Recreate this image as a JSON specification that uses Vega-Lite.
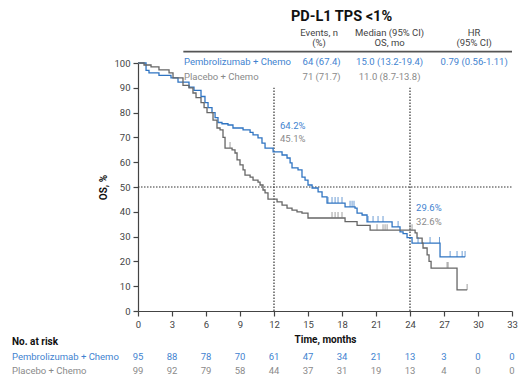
{
  "$schema": "https://vega.github.io/schema/vega-lite/v6.json",
  "width": 374,
  "height": 248,
  "autosize": {"type": "none"},
  "padding": {"left": 138, "top": 63, "right": 7, "bottom": 64},
  "background": "white",
  "config": {
    "font": "Roboto",
    "view": {"stroke": null},
    "axis": {"grid": false, "labelOverlap": false, "labelFlush": false, "domainColor": "#444", "tickColor": "#444", "labelColor": "#444", "labelFont": "Roboto", "labelFontSize": 9.5, "titleFont": "Roboto", "titleFontSize": 10, "titleColor": "#111", "titleFontWeight": "bold", "domainWidth": 1.2, "tickWidth": 1.2}
  },
  "resolve": {"scale": {"color": "independent"}},
  "datasets": {
    "curves": [
      {"arm": "Pembrolizumab + Chemo", "t": 0, "s": 100},
      {"arm": "Pembrolizumab + Chemo", "t": 0.71, "s": 97},
      {"arm": "Pembrolizumab + Chemo", "t": 0.97, "s": 96},
      {"arm": "Pembrolizumab + Chemo", "t": 1.85, "s": 95},
      {"arm": "Pembrolizumab + Chemo", "t": 2.91, "s": 94},
      {"arm": "Pembrolizumab + Chemo", "t": 3.53, "s": 92.3},
      {"arm": "Pembrolizumab + Chemo", "t": 4.5, "s": 90.3},
      {"arm": "Pembrolizumab + Chemo", "t": 4.94, "s": 89},
      {"arm": "Pembrolizumab + Chemo", "t": 5.56, "s": 86.5},
      {"arm": "Pembrolizumab + Chemo", "t": 5.91, "s": 84},
      {"arm": "Pembrolizumab + Chemo", "t": 6.18, "s": 82},
      {"arm": "Pembrolizumab + Chemo", "t": 6.53, "s": 80},
      {"arm": "Pembrolizumab + Chemo", "t": 6.8, "s": 78},
      {"arm": "Pembrolizumab + Chemo", "t": 7.06, "s": 76},
      {"arm": "Pembrolizumab + Chemo", "t": 7.41, "s": 75.5},
      {"arm": "Pembrolizumab + Chemo", "t": 7.94, "s": 75},
      {"arm": "Pembrolizumab + Chemo", "t": 8.38, "s": 73.8},
      {"arm": "Pembrolizumab + Chemo", "t": 9.27, "s": 73},
      {"arm": "Pembrolizumab + Chemo", "t": 9.89, "s": 72},
      {"arm": "Pembrolizumab + Chemo", "t": 10.15, "s": 71},
      {"arm": "Pembrolizumab + Chemo", "t": 10.59, "s": 69.8},
      {"arm": "Pembrolizumab + Chemo", "t": 10.94, "s": 67.7},
      {"arm": "Pembrolizumab + Chemo", "t": 11.21, "s": 65.7},
      {"arm": "Pembrolizumab + Chemo", "t": 11.92, "s": 64.2},
      {"arm": "Pembrolizumab + Chemo", "t": 12.71, "s": 62.9},
      {"arm": "Pembrolizumab + Chemo", "t": 13.15, "s": 61.7},
      {"arm": "Pembrolizumab + Chemo", "t": 13.42, "s": 59.7},
      {"arm": "Pembrolizumab + Chemo", "t": 13.59, "s": 57.7},
      {"arm": "Pembrolizumab + Chemo", "t": 14.12, "s": 56.9},
      {"arm": "Pembrolizumab + Chemo", "t": 14.47, "s": 54},
      {"arm": "Pembrolizumab + Chemo", "t": 14.74, "s": 52.8},
      {"arm": "Pembrolizumab + Chemo", "t": 15.0, "s": 50.8},
      {"arm": "Pembrolizumab + Chemo", "t": 15.36, "s": 49.6},
      {"arm": "Pembrolizumab + Chemo", "t": 15.89, "s": 48},
      {"arm": "Pembrolizumab + Chemo", "t": 16.24, "s": 46},
      {"arm": "Pembrolizumab + Chemo", "t": 16.68, "s": 43.5},
      {"arm": "Pembrolizumab + Chemo", "t": 18.27, "s": 42},
      {"arm": "Pembrolizumab + Chemo", "t": 19.15, "s": 41.5},
      {"arm": "Pembrolizumab + Chemo", "t": 19.33, "s": 39.5},
      {"arm": "Pembrolizumab + Chemo", "t": 19.77, "s": 38.7},
      {"arm": "Pembrolizumab + Chemo", "t": 20.21, "s": 35.9},
      {"arm": "Pembrolizumab + Chemo", "t": 22.42, "s": 33.9},
      {"arm": "Pembrolizumab + Chemo", "t": 23.12, "s": 31.9},
      {"arm": "Pembrolizumab + Chemo", "t": 23.39, "s": 31.2},
      {"arm": "Pembrolizumab + Chemo", "t": 23.74, "s": 29.6},
      {"arm": "Pembrolizumab + Chemo", "t": 24.18, "s": 27.4},
      {"arm": "Pembrolizumab + Chemo", "t": 26.65, "s": 21.8},
      {"arm": "Pembrolizumab + Chemo", "t": 28.86, "s": 21.8},
      {"arm": "Placebo + Chemo", "t": 0, "s": 100},
      {"arm": "Placebo + Chemo", "t": 0.53, "s": 99.2},
      {"arm": "Placebo + Chemo", "t": 1.15, "s": 98.4},
      {"arm": "Placebo + Chemo", "t": 1.85, "s": 97.2},
      {"arm": "Placebo + Chemo", "t": 2.74, "s": 96},
      {"arm": "Placebo + Chemo", "t": 3.09, "s": 94},
      {"arm": "Placebo + Chemo", "t": 3.97, "s": 91},
      {"arm": "Placebo + Chemo", "t": 4.5, "s": 90},
      {"arm": "Placebo + Chemo", "t": 4.85, "s": 87.9},
      {"arm": "Placebo + Chemo", "t": 5.12, "s": 86},
      {"arm": "Placebo + Chemo", "t": 5.56, "s": 84},
      {"arm": "Placebo + Chemo", "t": 5.83, "s": 82},
      {"arm": "Placebo + Chemo", "t": 6.09, "s": 80},
      {"arm": "Placebo + Chemo", "t": 6.62, "s": 77},
      {"arm": "Placebo + Chemo", "t": 6.97, "s": 73.8},
      {"arm": "Placebo + Chemo", "t": 7.24, "s": 73},
      {"arm": "Placebo + Chemo", "t": 7.5, "s": 70},
      {"arm": "Placebo + Chemo", "t": 7.68, "s": 65.7},
      {"arm": "Placebo + Chemo", "t": 8.3, "s": 65},
      {"arm": "Placebo + Chemo", "t": 8.56, "s": 63.7},
      {"arm": "Placebo + Chemo", "t": 8.74, "s": 60.9},
      {"arm": "Placebo + Chemo", "t": 9.0, "s": 58.9},
      {"arm": "Placebo + Chemo", "t": 9.27, "s": 56.9},
      {"arm": "Placebo + Chemo", "t": 9.44, "s": 54.8},
      {"arm": "Placebo + Chemo", "t": 9.89, "s": 54},
      {"arm": "Placebo + Chemo", "t": 10.15, "s": 52.8},
      {"arm": "Placebo + Chemo", "t": 10.59, "s": 52},
      {"arm": "Placebo + Chemo", "t": 10.77, "s": 50.8},
      {"arm": "Placebo + Chemo", "t": 11.03, "s": 48.8},
      {"arm": "Placebo + Chemo", "t": 11.21, "s": 47.6},
      {"arm": "Placebo + Chemo", "t": 11.47, "s": 45.1},
      {"arm": "Placebo + Chemo", "t": 12.27, "s": 44},
      {"arm": "Placebo + Chemo", "t": 12.71, "s": 42.7},
      {"arm": "Placebo + Chemo", "t": 13.15, "s": 41.5},
      {"arm": "Placebo + Chemo", "t": 13.59, "s": 40.7},
      {"arm": "Placebo + Chemo", "t": 14.03, "s": 40},
      {"arm": "Placebo + Chemo", "t": 14.47, "s": 39.5},
      {"arm": "Placebo + Chemo", "t": 15.0, "s": 37.5},
      {"arm": "Placebo + Chemo", "t": 18.27, "s": 36},
      {"arm": "Placebo + Chemo", "t": 19.33, "s": 34.5},
      {"arm": "Placebo + Chemo", "t": 20.48, "s": 32.6},
      {"arm": "Placebo + Chemo", "t": 24.45, "s": 31.5},
      {"arm": "Placebo + Chemo", "t": 24.62, "s": 29.4},
      {"arm": "Placebo + Chemo", "t": 25.07, "s": 27.4},
      {"arm": "Placebo + Chemo", "t": 25.15, "s": 25.4},
      {"arm": "Placebo + Chemo", "t": 25.51, "s": 22.6},
      {"arm": "Placebo + Chemo", "t": 25.68, "s": 20},
      {"arm": "Placebo + Chemo", "t": 25.86, "s": 17.3},
      {"arm": "Placebo + Chemo", "t": 28.15, "s": 8.5},
      {"arm": "Placebo + Chemo", "t": 29.04, "s": 8.5}
    ],
    "censors": [
      {"arm": "Pembrolizumab + Chemo", "t": 16.77, "s": 43.5},
      {"arm": "Pembrolizumab + Chemo", "t": 17.12, "s": 43.5},
      {"arm": "Pembrolizumab + Chemo", "t": 17.39, "s": 43.5},
      {"arm": "Pembrolizumab + Chemo", "t": 17.65, "s": 43.5},
      {"arm": "Pembrolizumab + Chemo", "t": 18.0, "s": 43.5},
      {"arm": "Pembrolizumab + Chemo", "t": 18.71, "s": 42},
      {"arm": "Pembrolizumab + Chemo", "t": 18.89, "s": 42},
      {"arm": "Pembrolizumab + Chemo", "t": 19.06, "s": 42},
      {"arm": "Pembrolizumab + Chemo", "t": 20.3, "s": 35.9},
      {"arm": "Pembrolizumab + Chemo", "t": 20.74, "s": 35.9},
      {"arm": "Pembrolizumab + Chemo", "t": 21.18, "s": 35.9},
      {"arm": "Pembrolizumab + Chemo", "t": 21.62, "s": 35.9},
      {"arm": "Pembrolizumab + Chemo", "t": 22.95, "s": 33.9},
      {"arm": "Pembrolizumab + Chemo", "t": 24.71, "s": 27.4},
      {"arm": "Pembrolizumab + Chemo", "t": 25.77, "s": 27.4},
      {"arm": "Pembrolizumab + Chemo", "t": 26.6, "s": 27.4},
      {"arm": "Pembrolizumab + Chemo", "t": 27.54, "s": 21.8},
      {"arm": "Pembrolizumab + Chemo", "t": 28.15, "s": 21.8},
      {"arm": "Pembrolizumab + Chemo", "t": 28.6, "s": 21.8},
      {"arm": "Pembrolizumab + Chemo", "t": 28.86, "s": 21.8},
      {"arm": "Placebo + Chemo", "t": 8.12, "s": 65.7},
      {"arm": "Placebo + Chemo", "t": 17.12, "s": 37.5},
      {"arm": "Placebo + Chemo", "t": 17.39, "s": 37.5},
      {"arm": "Placebo + Chemo", "t": 17.65, "s": 37.5},
      {"arm": "Placebo + Chemo", "t": 18.0, "s": 37.5},
      {"arm": "Placebo + Chemo", "t": 21.09, "s": 32.6},
      {"arm": "Placebo + Chemo", "t": 21.62, "s": 32.6},
      {"arm": "Placebo + Chemo", "t": 21.8, "s": 32.6},
      {"arm": "Placebo + Chemo", "t": 21.98, "s": 32.6},
      {"arm": "Placebo + Chemo", "t": 24.0, "s": 32.6},
      {"arm": "Placebo + Chemo", "t": 24.18, "s": 32.6},
      {"arm": "Placebo + Chemo", "t": 27.27, "s": 17.3},
      {"arm": "Placebo + Chemo", "t": 27.36, "s": 17.3},
      {"arm": "Placebo + Chemo", "t": 29.04, "s": 8.5}
    ],
    "centerText": [
      {"arm": "header", "t": 15.98, "s": 112.1, "label": "Events, n"},
      {"arm": "header", "t": 15.98, "s": 107.9, "label": "(%)"},
      {"arm": "header", "t": 22.2, "s": 112.1, "label": "Median (95% CI)"},
      {"arm": "header", "t": 22.2, "s": 107.9, "label": "OS, mo"},
      {"arm": "header", "t": 29.66, "s": 112.1, "label": "HR"},
      {"arm": "header", "t": 29.66, "s": 107.9, "label": "(95% CI)"},
      {"arm": "Pembrolizumab + Chemo", "t": 16.2, "s": 100.5, "label": "64 (67.4)"},
      {"arm": "Pembrolizumab + Chemo", "t": 22.2, "s": 100.5, "label": "15.0 (13.2-19.4)"},
      {"arm": "Pembrolizumab + Chemo", "t": 29.66, "s": 100.5, "label": "0.79 (0.56-1.11)"},
      {"arm": "Placebo + Chemo", "t": 16.2, "s": 94.5, "label": "71 (71.7)"},
      {"arm": "Placebo + Chemo", "t": 22.2, "s": 94.5, "label": "11.0 (8.7-13.8)"},
      {"arm": "Pembrolizumab + Chemo", "t": 0, "s": -18.4, "label": "95"},
      {"arm": "Pembrolizumab + Chemo", "t": 3, "s": -18.4, "label": "88"},
      {"arm": "Pembrolizumab + Chemo", "t": 6, "s": -18.4, "label": "78"},
      {"arm": "Pembrolizumab + Chemo", "t": 9, "s": -18.4, "label": "70"},
      {"arm": "Pembrolizumab + Chemo", "t": 12, "s": -18.4, "label": "61"},
      {"arm": "Pembrolizumab + Chemo", "t": 15, "s": -18.4, "label": "47"},
      {"arm": "Pembrolizumab + Chemo", "t": 18, "s": -18.4, "label": "34"},
      {"arm": "Pembrolizumab + Chemo", "t": 21, "s": -18.4, "label": "21"},
      {"arm": "Pembrolizumab + Chemo", "t": 24, "s": -18.4, "label": "13"},
      {"arm": "Pembrolizumab + Chemo", "t": 27, "s": -18.4, "label": "3"},
      {"arm": "Pembrolizumab + Chemo", "t": 30, "s": -18.4, "label": "0"},
      {"arm": "Pembrolizumab + Chemo", "t": 33, "s": -18.4, "label": "0"},
      {"arm": "Placebo + Chemo", "t": 0, "s": -24.1, "label": "99"},
      {"arm": "Placebo + Chemo", "t": 3, "s": -24.1, "label": "92"},
      {"arm": "Placebo + Chemo", "t": 6, "s": -24.1, "label": "79"},
      {"arm": "Placebo + Chemo", "t": 9, "s": -24.1, "label": "58"},
      {"arm": "Placebo + Chemo", "t": 12, "s": -24.1, "label": "44"},
      {"arm": "Placebo + Chemo", "t": 15, "s": -24.1, "label": "37"},
      {"arm": "Placebo + Chemo", "t": 18, "s": -24.1, "label": "31"},
      {"arm": "Placebo + Chemo", "t": 21, "s": -24.1, "label": "19"},
      {"arm": "Placebo + Chemo", "t": 24, "s": -24.1, "label": "13"},
      {"arm": "Placebo + Chemo", "t": 27, "s": -24.1, "label": "4"},
      {"arm": "Placebo + Chemo", "t": 30, "s": -24.1, "label": "0"},
      {"arm": "Placebo + Chemo", "t": 33, "s": -24.1, "label": "0"}
    ],
    "leftText": [
      {"arm": "Pembrolizumab + Chemo", "t": 4.06, "s": 100.5, "label": "Pembrolizumab + Chemo"},
      {"arm": "Placebo + Chemo", "t": 4.06, "s": 94.5, "label": "Placebo + Chemo"},
      {"arm": "Pembrolizumab + Chemo", "t": 12.53, "s": 74.6, "label": "64.2%"},
      {"arm": "Placebo + Chemo", "t": 12.53, "s": 69.2, "label": "45.1%"},
      {"arm": "Pembrolizumab + Chemo", "t": 24.54, "s": 41.7, "label": "29.6%"},
      {"arm": "Placebo + Chemo", "t": 24.54, "s": 35.8, "label": "32.6%"},
      {"arm": "Pembrolizumab + Chemo", "t": -11.12, "s": -18.4, "label": "Pembrolizumab + Chemo"},
      {"arm": "Placebo + Chemo", "t": -11.12, "s": -24.1, "label": "Placebo + Chemo"}
    ]
  },
  "encoding": {
    "x": {"field": "t", "type": "quantitative", "scale": {"domain": [0, 33], "nice": false, "zero": false}, "axis": {"values": [0, 3, 6, 9, 12, 15, 18, 21, 24, 27, 30, 33], "title": "Time, months", "tickSize": 5, "labelPadding": 3, "titlePadding": 6}},
    "y": {"field": "s", "type": "quantitative", "scale": {"domain": [0, 100], "nice": false, "zero": false}, "axis": {"values": [0, 10, 20, 30, 40, 50, 60, 70, 80, 90, 100], "title": "OS, %", "tickSize": 5, "labelPadding": 3, "titlePadding": 5}}
  },
  "layer": [
    {
      "data": {"values": [{"t": 12, "s": 0, "s2": 90}, {"t": 24, "s": 0, "s2": 90}]},
      "mark": {"type": "rule", "strokeDash": [1.5, 1.5], "color": "#333", "strokeWidth": 1.2},
      "encoding": {"y2": {"field": "s2"}}
    },
    {
      "data": {"values": [{"t": 0, "t2": 33, "s": 50}]},
      "mark": {"type": "rule", "strokeDash": [1.5, 1.5], "color": "#333", "strokeWidth": 1.2},
      "encoding": {"x2": {"field": "t2"}}
    },
    {
      "data": {"values": [{"t": 4.0, "t2": 33, "s": 104.6}]},
      "mark": {"type": "rule", "color": "#555", "strokeWidth": 1.6, "clip": false},
      "encoding": {"x2": {"field": "t2"}}
    },
    {
      "data": {"name": "curves"},
      "mark": {"type": "line", "interpolate": "step-after", "strokeWidth": 1.3},
      "encoding": {
        "color": {"field": "arm", "type": "nominal", "scale": {"domain": ["Pembrolizumab + Chemo", "Placebo + Chemo"], "range": ["#2f74c2", "#666666"]}, "legend": null}
      }
    },
    {
      "data": {"name": "censors"},
      "mark": {"type": "tick", "orient": "vertical", "size": 6, "thickness": 1, "yOffset": -3},
      "encoding": {"color": {"field": "arm", "type": "nominal", "scale": {"domain": ["Pembrolizumab + Chemo", "Placebo + Chemo"], "range": ["#2f74c2", "#777777"]}, "legend": null}}
    },
    {
      "data": {"name": "centerText"},
      "mark": {"type": "text", "align": "center", "baseline": "middle", "fontSize": 9.5, "font": "Roboto", "clip": false},
      "encoding": {"text": {"field": "label"}, "color": {"field": "arm", "type": "nominal", "scale": {"domain": ["Pembrolizumab + Chemo", "Placebo + Chemo", "header"], "range": ["#3f83d0", "#8a8a8a", "#444444"]}, "legend": null}}
    },
    {
      "data": {"name": "leftText"},
      "mark": {"type": "text", "align": "left", "baseline": "middle", "fontSize": 9.5, "font": "Roboto", "clip": false},
      "encoding": {"text": {"field": "label"}, "color": {"field": "arm", "type": "nominal", "scale": {"domain": ["Pembrolizumab + Chemo", "Placebo + Chemo"], "range": ["#3f83d0", "#8a8a8a"]}, "legend": null}}
    },
    {
      "data": {"values": [{"t": 17.96, "s": 118.5, "label": "PD-L1 TPS <1%"}]},
      "mark": {"type": "text", "align": "center", "baseline": "middle", "fontSize": 14.5, "fontWeight": "bold", "font": "Roboto", "color": "#111"},
      "encoding": {"text": {"field": "label"}}
    },
    {
      "data": {"values": [{"t": -11.12, "s": -12.4, "label": "No. at risk"}]},
      "mark": {"type": "text", "align": "left", "baseline": "middle", "fontSize": 10, "fontWeight": "bold", "font": "Roboto", "color": "#111"},
      "encoding": {"text": {"field": "label"}}
    }
  ]
}
